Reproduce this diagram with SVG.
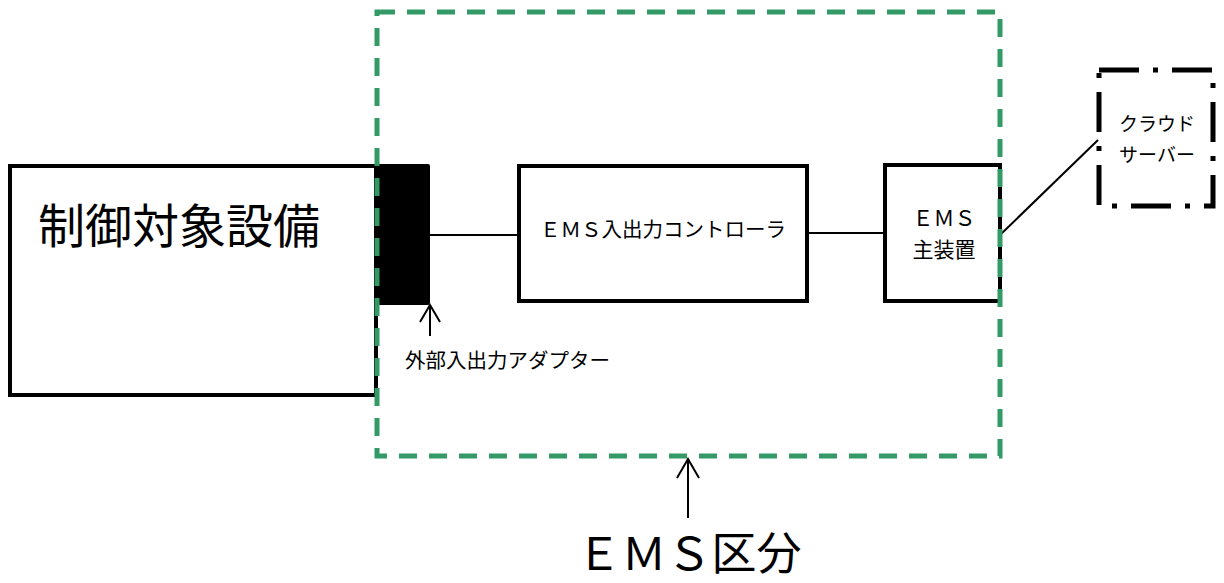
<svg xmlns="http://www.w3.org/2000/svg" width="1224" height="583" viewBox="0 0 1224 583">
<style>
text{font-family:"Noto Sans CJK JP","Noto Sans",sans-serif;fill:#000}
.box{fill:#fff;stroke:#000;stroke-width:4}
.ln{stroke:#000;stroke-width:2;fill:none}
</style>
<rect width="1224" height="583" fill="#fff"/>
<g id="connectors">
<line class="ln" x1="430" y1="235" x2="519" y2="235"/>
<line class="ln" x1="807" y1="233" x2="885" y2="233"/>
<line class="ln" x1="1000" y1="235" x2="1098" y2="140"/>
<path d="M430 336 V307" fill="none" stroke="#000" stroke-width="2"/>
<path d="M420 322 L430 305 L440 322" fill="none" stroke="#000" stroke-width="2"/>
<path d="M688 518 V460" fill="none" stroke="#000" stroke-width="2"/>
<path d="M677 478 L688 459 L699 478" fill="none" stroke="#000" stroke-width="2"/>
</g>
<g id="equipment">
<rect class="box" x="10" y="166" width="366" height="229"/>
<text x="38" y="243" font-size="47">制御対象設備</text>
</g>
<g id="adapter">
<rect x="376" y="164" width="54" height="141" rx="2" fill="#000"/>
<text x="405" y="368" font-size="20.5">外部入出力アダプター</text>
</g>
<g id="controller">
<rect class="box" x="519" y="166" width="288" height="135"/>
<text x="663" y="237" font-size="20.5" text-anchor="middle">ＥＭＳ入出力コントローラ</text>
</g>
<g id="main">
<rect class="box" x="885" y="165" width="115" height="136"/>
<text x="944" y="226" font-size="21" text-anchor="middle">ＥＭＳ</text>
<text x="944" y="257" font-size="21" text-anchor="middle">主装置</text>
</g>
<g id="cloud">
<rect x="1099" y="70" width="114" height="136" fill="none" stroke="#000" stroke-width="5" stroke-dasharray="40 14 5 14"/>
<text x="1157" y="131" font-size="19" text-anchor="middle">クラウド</text>
<text x="1157" y="162" font-size="19" text-anchor="middle">サーバー</text>
</g>
<g id="ems-zone">
<rect x="377" y="12" width="623" height="444" fill="none" stroke="#339966" stroke-width="5" stroke-dasharray="18 12"/>
<text x="689" y="570" font-size="45" text-anchor="middle">ＥＭＳ区分</text>
</g>
</svg>
